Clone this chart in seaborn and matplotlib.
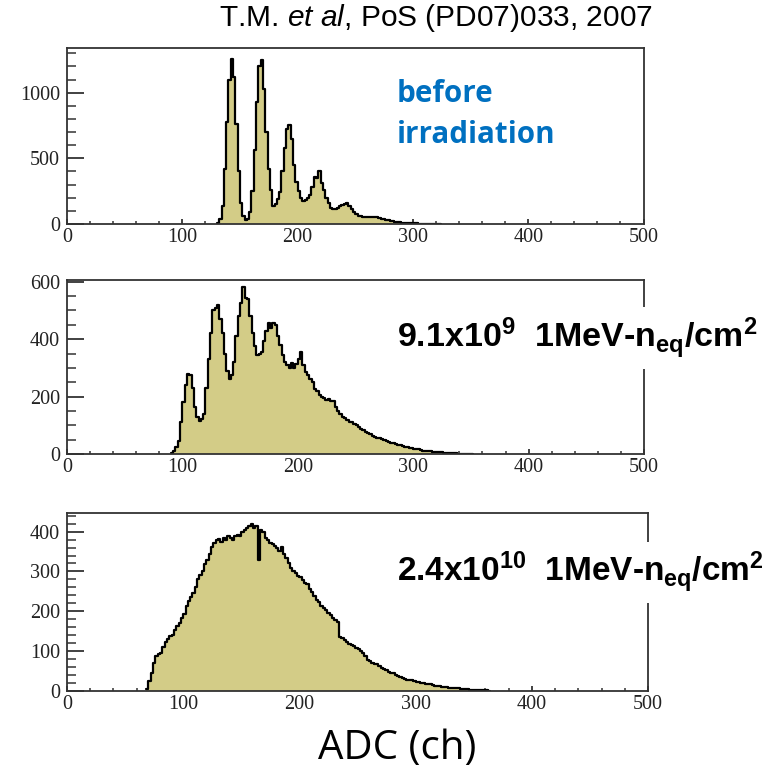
import numpy as np
import pandas as pd
import matplotlib
matplotlib.use("Agg")
import matplotlib.pyplot as plt
from matplotlib.ticker import MultipleLocator
import seaborn as sns

# ---------------- data (counts per 2-ADC bin) ----------------
bin_width = 2

before_start = 130
before_counts = [5, 40, 140, 420, 780, 1100, 1260, 1120, 760, 400,
                 160, 60, 30, 35, 90, 250, 560, 930, 1200, 1250,
                 1030, 700, 420, 260, 140, 150, 190, 240, 400, 580,
                 720, 755, 650, 450, 320, 250, 200, 175, 180, 195,
                 220, 280, 360, 350, 400, 310, 260, 200, 160, 125,
                 115, 115, 120, 135, 145, 150, 158, 140, 115, 95,
                 75, 62, 58, 55, 52, 52, 55, 56, 54, 50,
                 45, 40, 36, 32, 28, 24, 20, 17, 14, 12,
                 10, 9, 7, 6, 5, 5, 4, 3, 3, 2,
                 2, 2, 1, 1, 1, 1, 0]

mid_start = 90
mid_counts = [3, 10, 25, 45, 110, 180, 240, 278, 275, 230,
              165, 130, 116, 122, 140, 230, 330, 420, 500, 510,
              520, 470, 420, 350, 290, 262, 275, 320, 410, 480,
              525, 580, 545, 540, 480, 420, 375, 345, 350, 355,
              395, 430, 455, 440, 455, 450, 410, 380, 345, 320,
              310, 300, 318, 300, 312, 330, 355, 310, 285, 275,
              262, 250, 228, 218, 205, 200, 195, 188, 190, 185,
              185, 165, 150, 140, 130, 125, 120, 112, 110, 105,
              100, 95, 88, 85, 78, 72, 68, 62, 60, 56,
              55, 52, 48, 45, 42, 40, 38, 36, 33, 30,
              28, 26, 24, 22, 22, 19, 17, 16, 14, 12,
              11, 10, 9, 8, 8, 7, 8, 6, 4, 3,
              3, 2, 2, 2, 1, 1, 1, 1, 1, 1,
              0]

high_start = 68
high_counts = [5, 25, 45, 70, 88, 92, 95, 110, 122, 130,
               137, 140, 152, 162, 170, 182, 192, 212, 225, 235,
               245, 262, 280, 290, 300, 318, 330, 345, 362, 372,
               378, 382, 375, 385, 380, 388, 385, 380, 390, 392,
               388, 400, 405, 410, 415, 420, 410, 415, 330, 405,
               398, 385, 378, 372, 368, 365, 358, 352, 362, 345,
               335, 322, 308, 302, 295, 288, 285, 278, 272, 268,
               255, 248, 238, 228, 222, 212, 208, 202, 196, 190,
               183, 178, 172, 135, 132, 128, 122, 118, 115, 112,
               108, 105, 100, 95, 88, 76, 74, 70, 68, 66,
               62, 58, 55, 52, 48, 45, 44, 40, 38, 35,
               32, 30, 28, 27, 26, 24, 22, 21, 20, 19,
               18, 17, 16, 14, 13, 12, 11, 10, 10, 9,
               8, 8, 7, 6, 6, 5, 5, 4, 4, 3,
               3, 3, 2, 2, 2, 1, 1, 0]

x_ticks = [0, 100, 200, 300, 400, 500]
x_ticklabels = ["0", "100", "200", "300", "400", "500"]

panels = [
    dict(start=before_start, counts=before_counts, ymax=1340,
         ymajor=[0, 500, 1000], yminor=100),
    dict(start=mid_start, counts=mid_counts, ymax=606,
         ymajor=[0, 200, 400, 600], yminor=50),
    dict(start=high_start, counts=high_counts, ymax=447,
         ymajor=[0, 100, 200, 300, 400], yminor=20),
]

# ---------------- figure ----------------
sns.set_style("white")
plt.rcParams["mathtext.fontset"] = "custom"
plt.rcParams["mathtext.it"] = "Liberation Sans:italic"
plt.rcParams["mathtext.bf"] = "Liberation Sans:bold"
plt.rcParams["mathtext.rm"] = "Liberation Sans"

W, H = 778, 771
fig = plt.figure(figsize=(W / 100, H / 100), dpi=100)
fig.patch.set_facecolor("white")

# pixel boxes: left, top, right, bottom
boxes = [(67, 48, 643.5, 224), (67, 280, 644, 454), (67, 513, 648, 690.7)]

fill_color = "#d3cc87"
axis_color = "#333333"

for p, (l, t, r, b) in zip(panels, boxes):
    ax = fig.add_axes([l / W, 1 - b / H, (r - l) / W, (b - t) / H])
    counts = [float(c) for c in p["counts"]]
    edges = [float(p["start"] + bin_width * i) for i in range(len(counts) + 1)]
    centers = [e + bin_width / 2 for e in edges[:-1]]
    df = pd.DataFrame({"adc": centers, "count": counts})
    sns.histplot(data=df, x="adc", weights="count", bins=edges,
                 element="step", fill=True, color=fill_color, alpha=1,
                 linewidth=0, ax=ax)
    sns.histplot(data=df, x="adc", weights="count", bins=edges,
                 element="step", fill=False, color="black", linewidth=1.6,
                 ax=ax)
    ax.set_xlim(0, 500)
    ax.set_ylim(0, p["ymax"])
    ax.set_xlabel("")
    ax.set_ylabel("")
    ax.set_xticks(x_ticks)
    ax.set_xticklabels(x_ticklabels)
    ax.xaxis.set_minor_locator(MultipleLocator(20))
    ax.set_yticks(p["ymajor"])
    ax.yaxis.set_minor_locator(MultipleLocator(p["yminor"]))
    ax.tick_params(axis="both", which="both", direction="in",
                   colors=axis_color, labelcolor="#222222",
                   top=False, right=False, left=True, bottom=True)
    ax.tick_params(axis="y", which="major", length=12, width=1.3, pad=5)
    ax.tick_params(axis="y", which="minor", length=6.5, width=1.1)
    ax.tick_params(axis="x", which="major", length=3.6, width=1.3, pad=3)
    ax.tick_params(axis="x", which="minor", length=2, width=1.1)
    for lab in ax.get_xticklabels() + ax.get_yticklabels():
        lab.set_fontfamily("Liberation Serif")
        lab.set_fontsize(14.5)
    for s in ax.spines.values():
        s.set_color(axis_color)
        s.set_linewidth(1.3)
    ax.set_facecolor("white")


def fx(px):
    return px / W


def fy(py):
    return 1 - py / H


fig.text(fx(436), fy(26), r"T.M. $\mathit{et\ al}$, PoS (PD07)033, 2007",
         ha="center", va="baseline", fontsize=21.5, family="Liberation Sans",
         color="black")

fig.text(fx(397), fy(101.7), "before", ha="left", va="baseline",
         fontsize=21.3, family="Open Sans", fontweight="bold", color="#0070C0")
fig.text(fx(397), fy(143.3), "irradiation", ha="left", va="baseline",
         fontsize=21.3, family="Open Sans", fontweight="bold", color="#0070C0")

fig.text(fx(397), fy(347.3),
         r"9.1x10$^{\mathbf{9}}$  1MeV-n$_{\mathbf{eq}}$/cm$^{\mathbf{2}}$",
         ha="left", va="baseline", fontsize=24.5, family="Liberation Sans",
         fontweight="bold", color="black",
         bbox=dict(facecolor="white", edgecolor="none", pad=6))
fig.text(fx(397), fy(581.7),
         r"2.4x10$^{\mathbf{10}}$  1MeV-n$_{\mathbf{eq}}$/cm$^{\mathbf{2}}$",
         ha="left", va="baseline", fontsize=24, family="Liberation Sans",
         fontweight="bold", color="black",
         bbox=dict(facecolor="white", edgecolor="none", pad=6))

fig.text(fx(397.5), fy(759), "ADC (ch)", ha="center", va="baseline",
         fontsize=29, family="Open Sans", color="black")

fig.savefig("out.png", dpi=100, facecolor="white")
